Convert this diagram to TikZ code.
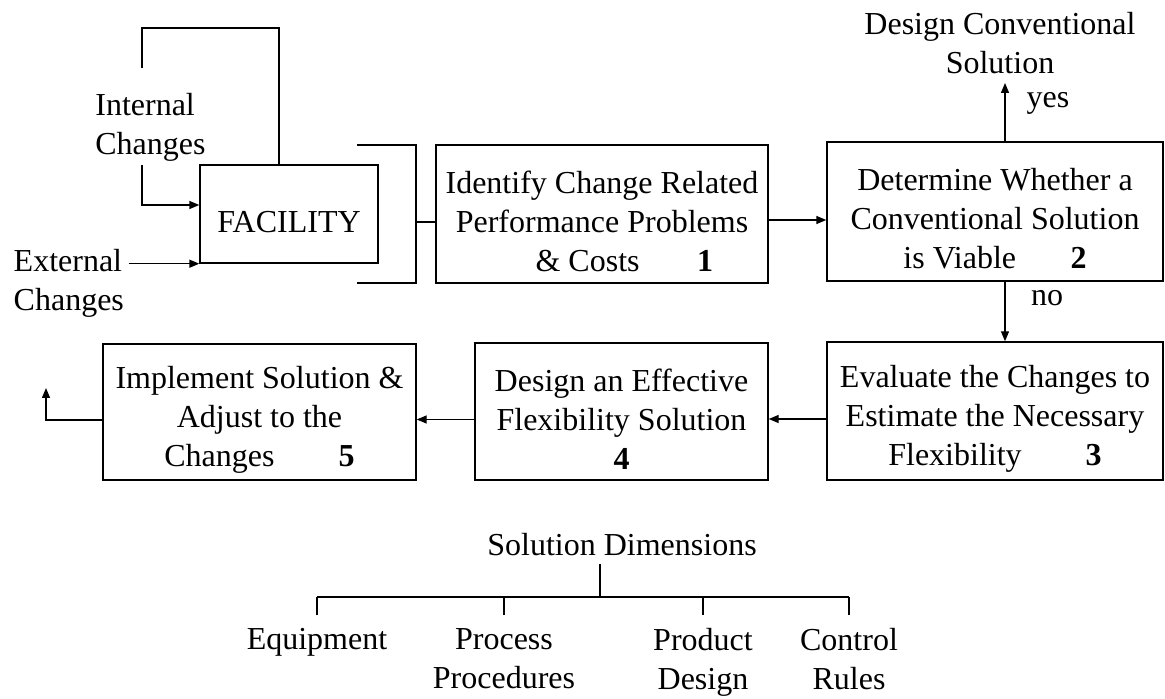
\documentclass[tikz,border=0pt]{standalone}
\usepackage{fontspec}
\setmainfont{Liberation Serif}
\usetikzlibrary{arrows.meta}
\newcommand\topgap{\rule{0pt}{18.5pt}}
\begin{document}
\begin{tikzpicture}[x=0.5pt,y=-0.5pt,line width=0.7pt,
	every node/.style={font=\fontsize{16}{19.5}\selectfont,align=center},
	stage/.style={draw,inner sep=0pt},
	arr/.style={-{Triangle[length=5pt,width=4pt]}}]
		\useasboundingbox (0,0) rectangle (1165,699);
		\node[stage,minimum width=89pt,minimum height=49pt] (fac) at (289,214) {\topgap FACILITY};
		\node[stage,minimum width=166pt,minimum height=69pt] (id) at (602,214) {\topgap Identify Change Related\\Performance Problems\\\hspace*{1.4em}\& Costs\hspace{1.8em}\textbf{1}};
		\node[stage,minimum width=168pt,minimum height=69.5pt] (det) at (995,211.5) {\topgap Determine Whether a\\Conventional Solution\\is Viable\hspace{1.7em}\textbf{2}};
		\node[stage,minimum width=168pt,minimum height=69pt] (eval) at (995,411) {\topgap Evaluate the Changes to\\Estimate the Necessary\\Flexibility\hspace{2em}\textbf{3}};
		\node[stage,minimum width=146.5pt,minimum height=68.5pt] (des) at (621.5,411.5) {\topgap Design an Effective\\Flexibility Solution\\\textbf{4}};
		\node[stage,minimum width=156.5pt,minimum height=68pt] (impl) at (259.5,412) {\topgap Implement Solution \&\\Adjust to the\\Changes\hspace{2em}\textbf{5}};
		\node[align=left,anchor=west] (intl) at (88,127) {Internal\\Changes};
		\node[align=left,anchor=west,inner xsep=2pt] (ext) at (9,283) {External\\Changes};
		\node[anchor=south,inner ysep=4pt] (conv) at (1000,83) {Design Conventional\\Solution};
		\node (yes) at (1048,103) {yes};
		\node (no) at (1047,298) {no};
		\node (dims) at (622,545) {Solution Dimensions};
		\node[anchor=north] (equip) at (317,621) {Equipment};
		\node[anchor=north] (proc) at (504,621) {Process\\Procedures};
		\node[anchor=north] (prod) at (703,621) {Product\\Design};
		\node[anchor=north] (ctrl) at (849,621) {Control\\Rules};
		\coordinate (loopT) at (142,28);
		\coordinate (loopE) at (142,68);
		\coordinate (inS) at (142,165);
		\coordinate (brk) at (416,222);
		\coordinate (ret) at (46,388);
		\coordinate (bar) at (0,597);
		% facility and the changes acting on it
		\draw ([xshift=-5pt]fac.north) |- (loopT) -- (loopE);
		\draw[arr] (inS) |- ([yshift=4.5pt]fac.west);
		\draw[arr] (ext.east |- fac.south west) -- (fac.south west);
		\draw (357,145) -| (416,283) -- (357,283);
		\draw (brk) -- (brk -| id.west);
		% the five steps
		\draw[arr] ([yshift=-3pt]id.east) -- ([yshift=-3pt]id.east -| det.west);
		\draw[arr] ([xshift=5pt]det.north) -- ([xshift=5pt]det.north |- conv.south);
		\draw[arr] ([xshift=5pt]det.south) -- ([xshift=5pt]det.south |- eval.north);
		\draw[arr] ([yshift=-4pt]eval.west) -- ([yshift=-4pt]eval.west -| des.east);
		\draw[arr] ([yshift=-4pt]des.west) -- ([yshift=-4pt]des.west -| impl.east);
		\draw[arr] ([yshift=-4pt]impl.west) -| (ret);
		% solution dimensions
		\draw ([xshift=-11pt]dims.south) -- ([xshift=-11pt]dims.south |- bar);
		\draw (equip.north |- bar) -- (ctrl.north |- bar);
		\foreach \n in {equip,proc,prod,ctrl}
			\draw ([yshift=3pt]\n.north) -- (\n.north |- bar);
\end{tikzpicture}
\end{document}
